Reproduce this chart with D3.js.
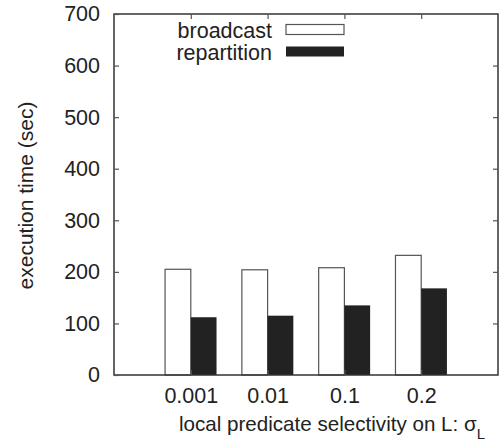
<!DOCTYPE html>
<html>
<head>
<meta charset="utf-8">
<script src="https://cdn.jsdelivr.net/npm/d3@7"></script>
<style>
  body { margin: 0; background: #fff; }
  text { font-family: "Liberation Sans", Arial, sans-serif; fill: #222; }
</style>
</head>
<body>
<div id="chart"></div>
<script>
const categories = ['0.001', '0.01', '0.1', '0.2'];
const broadcast = [205, 204, 208, 232];
const repartition = [112, 115, 135, 168];
const yTicks = [0, 100, 200, 300, 400, 500, 600, 700];

const width = 500, height = 447;
const padding = { top: 14, right: 2, bottom: 72, left: 114 };
const innerW = width - padding.left - padding.right;
const innerH = height - padding.top - padding.bottom;
const fontSize = '21.5px';

const svg = d3.select('#chart').append('svg')
	.attr('width', width)
	.attr('height', height);

const g = svg.append('g')
	.attr('transform', `translate(${padding.left},${padding.top})`);

// gnuplot style: categories at 0..3, range -1..4
const xScale = d3.scaleLinear().domain([-1, 4]).range([0, innerW]);
const yScale = d3.scaleLinear().domain([0, 700]).range([innerH, 0]);
const barW = xScale(0.335) - xScale(0);

// bars
g.selectAll('.bc').data(broadcast).enter().append('rect')
	.attr('x', (d, i) => xScale(i) - barW)
	.attr('y', d => yScale(d))
	.attr('width', barW)
	.attr('height', d => yScale(0) - yScale(d))
	.attr('fill', '#fff')
	.attr('stroke', '#555')
	.attr('stroke-width', 1.2);

g.selectAll('.rp').data(repartition).enter().append('rect')
	.attr('x', (d, i) => xScale(i))
	.attr('y', d => yScale(d))
	.attr('width', barW)
	.attr('height', d => yScale(0) - yScale(d))
	.attr('fill', '#222');

// frame
g.append('rect')
	.attr('width', innerW).attr('height', innerH)
	.attr('fill', 'none').attr('stroke', '#333').attr('stroke-width', 1.5);

// axes with inward ticks
const tickLen = 5;
const yAxis = g.append('g').call(d3.axisLeft(yScale).tickValues(yTicks).tickSize(-tickLen).tickPadding(14));
const yAxisR = g.append('g').attr('transform', `translate(${innerW},0)`)
	.call(d3.axisRight(yScale).tickValues(yTicks.slice(1, -1)).tickSize(-tickLen).tickFormat(''));
const xAxis = g.append('g').attr('transform', `translate(0,${innerH})`)
	.call(d3.axisBottom(xScale).tickValues([0, 1, 2, 3]).tickSize(-tickLen).tickPadding(13)
		.tickFormat(i => categories[i]));
const xAxisT = g.append('g')
	.call(d3.axisTop(xScale).tickValues([0, 1, 2, 3]).tickSize(-tickLen).tickFormat(''));

[yAxis, yAxisR, xAxis, xAxisT].forEach(a => {
	a.select('.domain').remove();
	a.selectAll('line').attr('stroke', '#555').attr('stroke-width', 1.2);
	a.selectAll('text').style('font-size', fontSize).attr('fill', '#222');
});

// axis titles
svg.append('text')
	.attr('transform', `translate(33,${padding.top + innerH / 2 + 1}) rotate(-90)`)
	.attr('text-anchor', 'middle')
	.style('font-size', '21px')
	.text('execution time (sec)');

const xt = svg.append('text')
	.attr('x', 332).attr('y', 431)
	.attr('text-anchor', 'middle')
	.style('font-size', '20.6px');
xt.append('tspan').text('local predicate selectivity on L: σ');
xt.append('tspan').attr('dy', 8).style('font-size', '15px').text('L');

// legend
const legend = [
	{ name: 'broadcast', fill: '#fff', stroke: '#555' },
	{ name: 'repartition', fill: '#222', stroke: 'none' }
];
const lg = svg.append('g');
lg.selectAll('text').data(legend).enter().append('text')
	.attr('x', 272).attr('y', (d, i) => 37.5 + i * 22)
	.attr('text-anchor', 'end')
	.style('font-size', fontSize)
	.text(d => d.name);
lg.selectAll('rect').data(legend).enter().append('rect')
	.attr('x', 286).attr('y', (d, i) => 24.5 + i * 22)
	.attr('width', 58).attr('height', 10)
	.attr('fill', d => d.fill)
	.attr('stroke', d => d.stroke)
	.attr('stroke-width', 1.2);
</script>
</body>
</html>
